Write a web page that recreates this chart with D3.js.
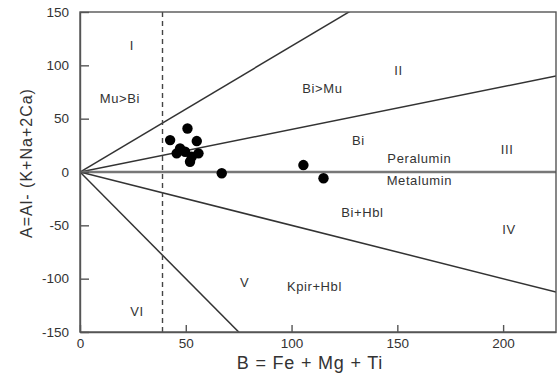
<!DOCTYPE html>
<html><head><meta charset="utf-8">
<script src="https://cdn.jsdelivr.net/npm/d3@7/dist/d3.min.js"></script>
<style>
body{margin:0;background:#fff;}
text{font-family:"Liberation Sans",Arial,sans-serif;fill:#333;}
</style></head>
<body><svg id="c" width="559" height="378"></svg>
<script>
// Sample points (B, A)
const sampleB = [50.8, 42.6, 55.2, 47.3, 49.7, 56.0, 45.7, 52.0, 52.8, 67.0, 105.6, 115.1];
const sampleA = [40.8, 29.9, 29.0, 22.1, 19.0, 17.5, 17.5, 9.6, 14.3, -1.2, 6.5, -5.9];
// Boundary lines from origin: slope A/B
const boundarySlopes = [1.18, 0.40, 0.0, -0.50, -2.0];
const dashedB = 39;
const xTicks = [0, 50, 100, 150, 200];
const yTicks = [-150, -100, -50, 0, 50, 100, 150];
const regionNames = ["I", "Mu>Bi", "Bi>Mu", "II", "Bi", "Peralumin", "III", "Metalumin", "Bi+Hbl", "IV", "V", "Kpir+Hbl", "VI"];
const regionB = [24.5, 18.9, 114.6, 150.5, 131.6, 160.4, 201.9, 160.4, 133.5, 202.8, 77.8, 110.8, 26.9];
const regionA = [118.7, 69, 78.5, 95.3, 29.9, 13, 21.5, -7.5, -38.3, -54.2, -103.7, -107.5, -130.8];

const svg = d3.select("#c");
const x = d3.scaleLinear().domain([0, 225]).range([80, 556]);
const y = d3.scaleLinear().domain([-150, 150]).range([332, 12]);

const clipId = "clipP";
svg.append("clipPath").attr("id", clipId).append("rect")
  .attr("x", x(0)).attr("y", y(150)).attr("width", x(225) - x(0)).attr("height", y(-150) - y(150));

const g = svg.append("g").attr("clip-path", "url(#" + clipId + ")");

// boundary lines
boundarySlopes.forEach(s => {
  g.append("line")
    .attr("x1", x(0)).attr("y1", y(0))
    .attr("x2", x(225)).attr("y2", y(225 * s))
    .attr("stroke", s === 0 ? "#777" : "#333")
    .attr("stroke-width", s === 0 ? 2.4 : 1.5);
});
// dashed line
g.append("line").attr("x1", x(dashedB)).attr("x2", x(dashedB))
  .attr("y1", y(150)).attr("y2", y(-150))
  .attr("stroke", "#444").attr("stroke-width", 1.4).attr("stroke-dasharray", "5,4");

// frame
svg.append("rect").attr("x", x(0)).attr("y", y(150))
  .attr("width", x(225) - x(0)).attr("height", y(-150) - y(150))
  .attr("fill", "none").attr("stroke", "#555").attr("stroke-width", 1.4);

// axes
const fmt = d => String(d);
const ax = svg.append("g").attr("transform", `translate(0,${y(-150)})`)
  .call(d3.axisBottom(x).tickValues(xTicks).tickFormat(fmt).tickSizeInner(-7).tickSizeOuter(0).tickPadding(6));
const ay = svg.append("g").attr("transform", `translate(${x(0)},0)`)
  .call(d3.axisLeft(y).tickValues(yTicks).tickFormat(fmt).tickSizeInner(-9).tickSizeOuter(0).tickPadding(11));
[ax, ay].forEach(a => {
  a.select(".domain").attr("stroke", "#555").attr("stroke-width", 1.4);
  a.selectAll(".tick line").attr("stroke", "#555").attr("stroke-width", 1.4);
  a.selectAll(".tick text").attr("font-size", 13.5).attr("fill", "#444")
    .attr("font-family", "Liberation Sans, Arial, sans-serif");
});

// points
svg.append("g").selectAll("circle").data(sampleB).join("circle")
  .attr("cx", (d) => x(d)).attr("cy", (d, i) => y(sampleA[i])).attr("r", 5.2)
  .attr("fill", "#000");

// region labels
svg.append("g").selectAll("text").data(regionNames).join("text")
  .attr("x", (d, i) => x(regionB[i])).attr("y", (d, i) => y(regionA[i]))
  .attr("text-anchor", "middle").attr("dominant-baseline", "central")
  .attr("font-size", 13).attr("letter-spacing", 0.6).attr("fill", "#333").text(d => d);

// axis titles
svg.append("text").attr("x", 310).attr("y", 369).attr("text-anchor", "middle")
  .attr("font-size", 18).attr("letter-spacing", 0.8).attr("fill", "#333").text("B = Fe + Mg + Ti");
svg.append("text").attr("transform", "translate(32,163) rotate(-90)")
  .attr("text-anchor", "middle").attr("font-size", 16).attr("letter-spacing", 1)
  .attr("fill", "#333").text("A=Al- (K+Na+2Ca)");
</script></body></html>
